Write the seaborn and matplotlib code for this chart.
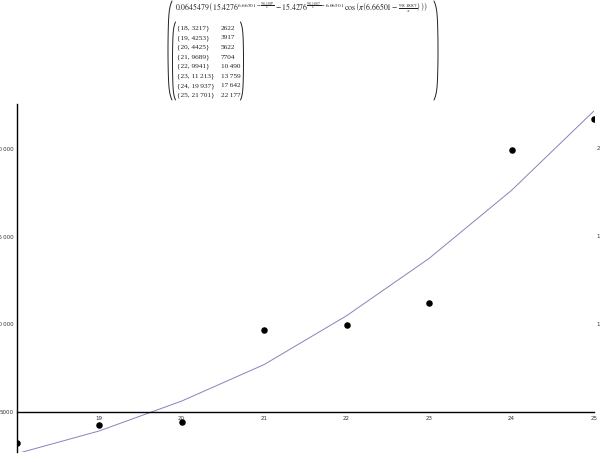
import matplotlib
matplotlib.use("Agg")
import matplotlib.pyplot as plt
from matplotlib.ticker import MultipleLocator, FixedLocator
import seaborn as sns
import pandas as pd
import numpy as np

# ---- data ----
x_vals = [18, 19, 20, 21, 22, 23, 24, 25]
y_obs = [3217, 4253, 4425, 9689, 9941, 11213, 19937, 21701]
y_fit = [2622, 3917, 5622, 7704, 10490, 13759, 17642, 22177]
y_major = [5000, 10000, 15000, 20000]
x_major = [19, 20, 21, 22, 23, 24, 25]

formula = (r"$0.0645479\,\left(15.4276^{6.66501-\frac{98.1887}{x}}"
           r"-15.4276^{\frac{98.1887}{x}-6.66501}\,"
           r"\cos\left(\pi\left(6.66501-\frac{98.1887}{x}\right)\right)\right)$")

THIN = "\u2009"


def fmt(v):
    s = str(v)
    if v >= 10000:
        s = s[:-3] + THIN + s[-3:]
    return s


df_obs = pd.DataFrame({"x": x_vals, "y": y_obs})
df_fit = pd.DataFrame({"x": x_vals, "y": y_fit})

sns.set_style("white")
plt.rcParams["font.family"] = ["DejaVu Sans"]
plt.rcParams["mathtext.fontset"] = "stix"

W, H = 600, 462
fig = plt.figure(figsize=(W / 100, H / 100), dpi=100)
fig.patch.set_facecolor("white")

# main axes (pixel placement)
left_px, right_px, top_px, bot_px = 16.5, 594.0, 104.0, 452.0
ax = fig.add_axes([left_px / W, (H - bot_px) / H,
                   (right_px - left_px) / W, (bot_px - top_px) / H])
ax.set_facecolor("white")

sns.lineplot(data=df_fit, x="x", y="y", ax=ax, color="#8484bc",
             linewidth=0.7, zorder=2)
sns.scatterplot(data=df_obs, x="x", y="y", ax=ax, color="black",
                s=22, linewidth=0, zorder=3)

ax.set_xlim(18, 25)
ax.set_ylim(2720, 22570)
ax.set_xlabel("")
ax.set_ylabel("")

for s in ["top", "right"]:
    ax.spines[s].set_visible(False)
ax.spines["bottom"].set_position(("data", 5000))
for s in ["left", "bottom"]:
    ax.spines[s].set_color("black")
    ax.spines[s].set_linewidth(1.0)

ax.xaxis.set_major_locator(FixedLocator(x_major))
ax.xaxis.set_minor_locator(MultipleLocator(0.2))
ax.yaxis.set_major_locator(FixedLocator(y_major))
ax.yaxis.set_minor_locator(MultipleLocator(1000))
ax.set_xticklabels([str(v) for v in x_major])
ax.set_yticklabels([fmt(v) for v in y_major])

ax.tick_params(axis="both", which="major", direction="in", length=4,
               width=0.6, color="black", labelsize=4, pad=2,
               labelcolor="#333333")
ax.tick_params(axis="both", which="minor", direction="in", length=2,
               width=0.4, color="#888888")
ax.tick_params(axis="x", which="major", pad=3)

# overlay in pixel coordinates for the formula / matrix header
ov = fig.add_axes([0, 0, 1, 1], zorder=5)
ov.set_xlim(0, W)
ov.set_ylim(H, 0)
ov.axis("off")

ov.text(175, 8, formula, ha="left", va="center", fontsize=5.6,
        color="#222222")

row_y0, row_dy = 28.3, 9.6
for i, (xv, yo, yf) in enumerate(zip(x_vals, y_obs, y_fit)):
    yy = row_y0 + i * row_dy
    ov.text(177, yy, "{" + f"{xv}, {fmt(yo)}" + "}", ha="left", va="center",
            fontsize=5.2, family="Liberation Serif", color="#222222")
    ov.text(221, yy, fmt(yf), ha="left", va="center",
            fontsize=5.2, family="Liberation Serif", color="#222222")


def paren(xe, y0, y1, bulge, left=True, lw=0.7):
    """Bracket whose middle sits at xe and ends curl by `bulge` px."""
    t = np.linspace(-1, 1, 80)
    yy = (y0 + y1) / 2 + t * (y1 - y0) / 2
    off = bulge * (0.35 * t ** 2 + 0.65 * t ** 8)
    xx = xe + off if left else xe - off
    ov.plot(xx, yy, color="#222222", lw=lw, solid_capstyle="round")


paren(168, 1, 100, 4.0, left=True)
paren(438, 1, 100, 4.0, left=False)
paren(172.5, 22, 100, 3.0, left=True)
paren(243.5, 22, 100, 3.0, left=False)

# edge remnants of the neighbouring panel's labels
for v, yy in [(20000, 148), (15000, 236.5), (10000, 324.5)]:
    ov.text(597, yy, fmt(v), ha="left", va="center", fontsize=4,
            color="#333333")

fig.savefig("out.png", dpi=100, facecolor="white")
